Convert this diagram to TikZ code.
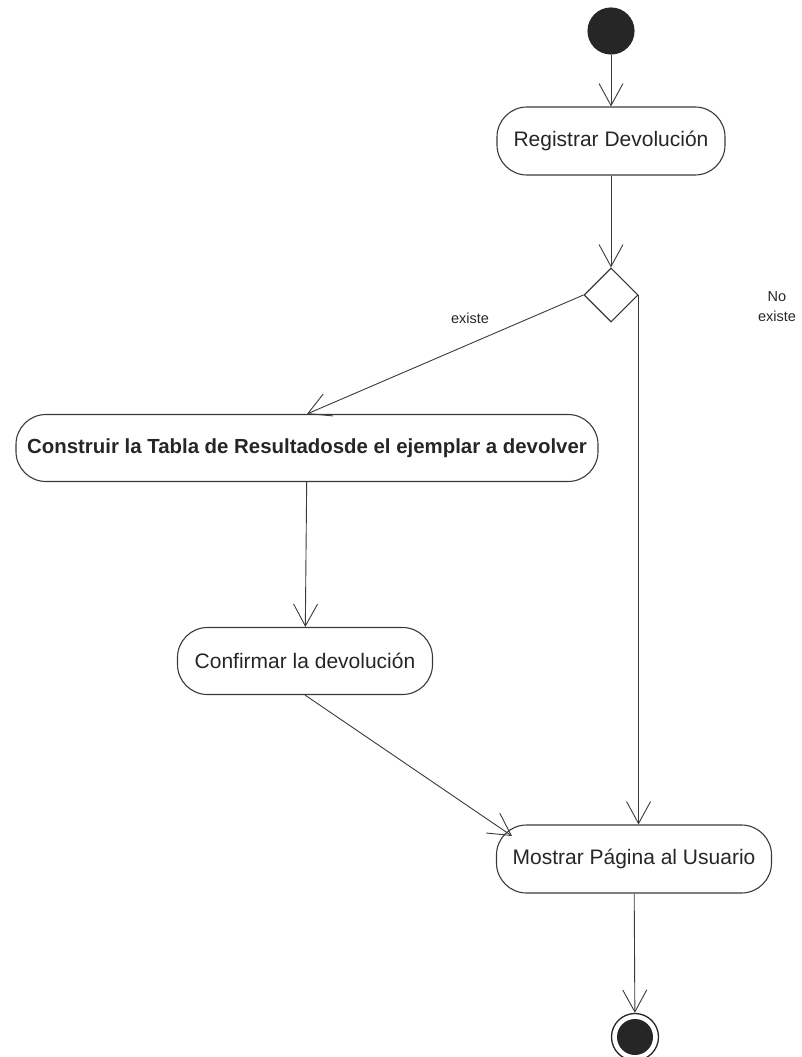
\documentclass[tikz,border=0pt]{standalone}
\usepackage{fontspec}
\setmainfont{Liberation Sans}
\usetikzlibrary{arrows.meta,shapes.geometric}
\definecolor{ink}{HTML}{3A3A3A}
\definecolor{txt}{HTML}{262626}
\begin{document}
\begin{tikzpicture}[x=1pt,y=-1pt,
  line width=1.1pt,
  activity/.style={draw=ink, rounded corners=30pt, inner sep=0pt, text=txt,
    font=\fontsize{21}{24}\selectfont},
  flow/.style={draw=ink, line width=0.9pt, -{Straight Barb[length=22pt,width=24pt,line width=0.9pt]}},
  guard/.style={text=txt, font=\fontsize{14.5}{20}\selectfont, align=center},
  decision/.style={draw=ink, diamond, aspect=1, minimum size=54pt, inner sep=0pt}
]
\useasboundingbox (0,0) rectangle (802,1057);

% initial node and actions
\node[circle, fill=black!85, draw=black!85, minimum size=46pt, inner sep=0pt] (start) at (611,31) {};
\node[activity, minimum width=228pt, minimum height=68pt] (reg) at (611,141) {Registrar Devolución};
\node[decision] (dec) at (611,295) {};
\node[activity, minimum width=582pt, minimum height=67pt, font=\fontsize{20.4}{24}\selectfont\bfseries] (constr) at (307,448) {Construir la Tabla de Resultadosde el ejemplar a devolver};
\node[activity, minimum width=255pt, minimum height=67pt] (conf) at (305,661) {Confirmar la devolución};
\node[activity, minimum width=275pt, minimum height=68pt] (show) at (634,859) {Mostrar Página al Usuario};

% final node
\node[circle, draw=black!85, line width=1.3pt, minimum size=47pt, inner sep=0pt] (end) at (635,1037) {};
\node[circle, fill=black!85, minimum size=36pt, inner sep=0pt] (endin) at (end.center) {};

% guard labels
\node[guard] (lexiste) at (470,318) {existe};
\node[guard] (lno) at (777,307) {No\\existe};

\coordinate (showcorner) at (512,836);

% transitions
\draw[flow] (start) -- (reg);
\draw[flow] (reg) -- (dec.north);
\draw[flow] (dec.west) -- (constr.north);
\draw[flow] (dec.east) -- (dec.east |- show.north);
\draw[flow] (constr) -- (conf);
\draw[flow] (conf.south) -- (showcorner);
\draw[flow] (show) -- (end);
\end{tikzpicture}
\end{document}
